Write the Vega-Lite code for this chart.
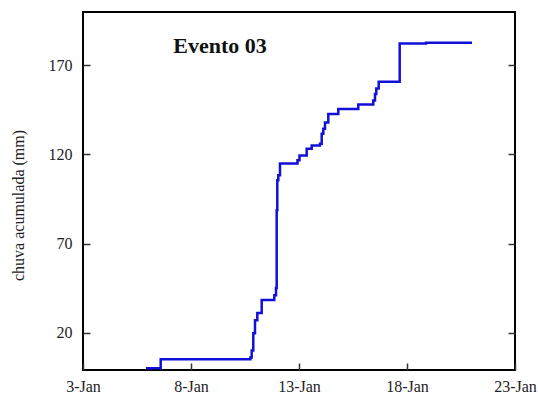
{
  "$schema": "https://vega.github.io/schema/vega-lite/v6.json",
  "width": 432,
  "height": 358,
  "autosize": "none",
  "padding": {"left": 83, "top": 12, "right": 23, "bottom": 26},
  "background": "white",
  "config": {
    "view": {"stroke": "black", "strokeWidth": 2},
    "font": "Liberation Serif",
    "axis": {"grid": false, "domain": false, "labelFont": "Liberation Serif", "titleFont": "Liberation Serif", "labelFontSize": 16, "labelColor": "#222", "titleColor": "#222", "tickColor": "#333", "tickWidth": 1.5}
  },
  "datasets": {
    "rain": [
      {"t": "2024-01-05T22:00:00", "v": 0},
      {"t": "2024-01-06T14:20:00", "v": 5},
      {"t": "2024-01-10T18:00:00", "v": 6},
      {"t": "2024-01-10T19:26:00", "v": 10},
      {"t": "2024-01-10T21:13:00", "v": 19.6},
      {"t": "2024-01-10T23:07:00", "v": 27},
      {"t": "2024-01-11T01:40:00", "v": 31},
      {"t": "2024-01-11T06:33:00", "v": 38.3},
      {"t": "2024-01-11T20:33:00", "v": 41},
      {"t": "2024-01-11T22:26:00", "v": 45},
      {"t": "2024-01-11T23:13:00", "v": 88.7},
      {"t": "2024-01-11T23:53:00", "v": 105.5},
      {"t": "2024-01-12T01:00:00", "v": 108.3},
      {"t": "2024-01-12T02:53:00", "v": 115},
      {"t": "2024-01-12T22:20:00", "v": 116.7},
      {"t": "2024-01-13T00:33:00", "v": 119.5},
      {"t": "2024-01-13T08:33:00", "v": 123.2},
      {"t": "2024-01-13T14:07:00", "v": 125},
      {"t": "2024-01-13T23:20:00", "v": 126},
      {"t": "2024-01-14T01:13:00", "v": 131.6},
      {"t": "2024-01-14T03:00:00", "v": 134.4},
      {"t": "2024-01-14T04:53:00", "v": 138},
      {"t": "2024-01-14T08:33:00", "v": 142.8},
      {"t": "2024-01-14T19:40:00", "v": 145.6},
      {"t": "2024-01-15T17:53:00", "v": 148},
      {"t": "2024-01-16T10:33:00", "v": 150.3},
      {"t": "2024-01-16T12:27:00", "v": 154},
      {"t": "2024-01-16T13:53:00", "v": 157},
      {"t": "2024-01-16T16:33:00", "v": 160.8},
      {"t": "2024-01-17T15:53:00", "v": 182.3},
      {"t": "2024-01-18T21:07:00", "v": 182.8},
      {"t": "2024-01-21T00:13:00", "v": 182.8}
    ],
    "label": [
      {"t": "2024-01-09T08:15:00", "v": 177, "text": "Evento 03"}
    ]
  },
  "encoding": {
    "x": {
      "field": "t", "type": "temporal",
      "scale": {"domain": [{"year": 2024, "month": 1, "date": 3}, {"year": 2024, "month": 1, "date": 23}]},
      "axis": {
        "title": null,
        "values": [
          {"year": 2024, "month": 1, "date": 3},
          {"year": 2024, "month": 1, "date": 8},
          {"year": 2024, "month": 1, "date": 13},
          {"year": 2024, "month": 1, "date": 18},
          {"year": 2024, "month": 1, "date": 23}
        ],
        "format": "%-d-%b", "labelFont": "Liberation Serif", "labelFontSize": 16, "tickSize": -7, "labelPadding": 15, "labelFlush": false, "labelOverlap": false
      }
    }
  },
  "layer": [
    {
      "data": {"name": "rain"},
      "mark": {"type": "line", "interpolate": "step-after", "color": "#1010d8", "strokeWidth": 2.5},
      "encoding": {
        "y": {
          "field": "v", "type": "quantitative",
          "scale": {"domain": [-1, 200], "nice": false, "zero": false},
          "axis": {
            "title": "chuva acumulada (mm)", "titleFontSize": 16, "titleFontWeight": "normal",
            "titleX": -65, "titleY": 193, "titleAngle": -90, "titleBaseline": "middle", "titleAlign": "center",
            "values": [20, 70, 120, 170], "labelFontSize": 16, "tickSize": -7, "labelPadding": 18
          }
        }
      }
    },
    {
      "data": {"name": "rain"},
      "mark": {"type": "line", "opacity": 0},
      "encoding": {
        "y": {
          "field": "v", "type": "quantitative",
          "axis": {"orient": "right", "title": null, "labels": false, "values": [20, 70, 120, 170], "tickSize": -7}
        }
      }
    },
    {
      "data": {"name": "label"},
      "mark": {"type": "text", "font": "Liberation Serif", "fontWeight": "bold", "fontSize": 22, "color": "#111", "align": "center", "baseline": "alphabetic"},
      "encoding": {
        "y": {"field": "v", "type": "quantitative", "axis": null},
        "text": {"field": "text"}
      }
    }
  ],
  "resolve": {"axis": {"y": "independent"}}
}
